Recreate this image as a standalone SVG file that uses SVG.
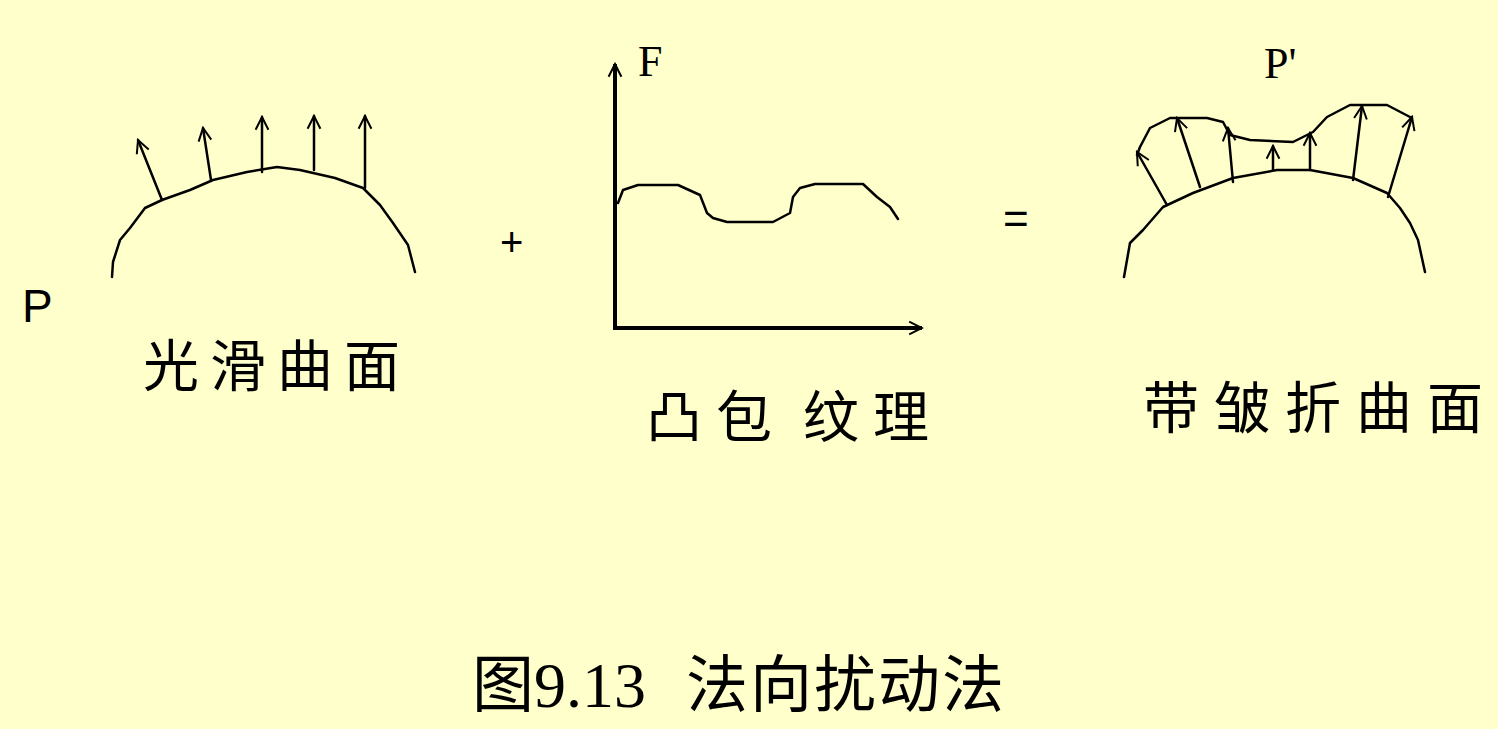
<svg xmlns="http://www.w3.org/2000/svg" width="1498" height="729" viewBox="0 0 1498 729">
<style>
.ln{fill:none;stroke:#000;stroke-width:2.5;stroke-linejoin:round;stroke-linecap:round}
.th{fill:none;stroke:#000;stroke-width:4}
.cjk{font-family:"Noto Sans CJK SC",sans-serif;fill:#000}
.ser{font-family:"Liberation Serif",serif;fill:#000}
.san{font-family:"Liberation Sans",sans-serif;fill:#000}
</style>
<defs>
<marker id="ah" viewBox="0 0 20 20" refX="18" refY="10" markerWidth="16" markerHeight="16" markerUnits="userSpaceOnUse" orient="auto">
<path d="M2,2 L18,10 L2,18" fill="none" stroke="#000" stroke-width="2.5"/>
</marker>
</defs>
<rect width="1498" height="729" fill="#FFFFCC"/>
<g id="smooth">
<path class="ln" d="M112,277 L113,262 L120,240 L130,228 L145,208 L162,200 L190,190 L213,180 L247,172 L277,167 L300,170 L335,178 L363,188 L380,205 L393,223 L408,245 L415,272"/>
<g class="ln">
<line x1="162" y1="200" x2="138" y2="140" marker-end="url(#ah)"/>
<line x1="211" y1="180" x2="203" y2="128" marker-end="url(#ah)"/>
<line x1="262" y1="172" x2="262" y2="117" marker-end="url(#ah)"/>
<line x1="314" y1="170" x2="314" y2="116" marker-end="url(#ah)"/>
<line x1="365" y1="188" x2="365" y2="116" marker-end="url(#ah)"/>
</g>
<text class="san" x="22" y="322" font-size="46">P</text>
<text class="cjk" x="143" y="386" font-size="56" letter-spacing="11">光滑曲面</text>
</g>
<g id="plus"><text class="san" x="500" y="256" font-size="40">+</text></g>
<g id="bump">
<line class="th" x1="615" y1="330" x2="615" y2="64" marker-end="url(#ah)"/>
<line class="th" x1="613" y1="328" x2="922" y2="328" marker-end="url(#ah)"/>
<path class="ln" d="M618,203 L623,190 L638,185 L678,185 L700,195 L707,213 L713,218 L727,222 L773,222 L790,213 L793,197 L800,188 L815,184 L863,184 L877,197 L890,207 L898,219"/>
<text class="ser" x="638" y="76" font-size="44">F</text>
<text class="cjk" x="646" y="437" font-size="56" letter-spacing="14">凸包</text>
<text class="cjk" x="803" y="437" font-size="56" letter-spacing="14">纹理</text>
</g>
<g id="equals"><text class="san" x="1003" y="234" font-size="44">=</text></g>
<g id="wrinkled">
<path class="ln" d="M1124,277 L1130,243 L1143,230 L1163,207 L1193,193 L1233,178 L1277,170 L1310,170 L1353,178 L1387,193 L1400,208 L1410,223 L1418,240 L1425,272"/>
<path class="ln" d="M1137,155 L1140,147 L1150,128 L1170,118 L1207,118 L1223,122 L1230,135 L1250,140 L1293,142 L1313,132 L1327,117 L1350,105 L1387,105 L1410,117"/>
<g class="ln">
<line x1="1167" y1="205" x2="1137" y2="152" marker-end="url(#ah)"/>
<line x1="1200" y1="187" x2="1177" y2="118" marker-end="url(#ah)"/>
<line x1="1233" y1="182" x2="1228" y2="128" marker-end="url(#ah)"/>
<line x1="1273" y1="170" x2="1273" y2="146" marker-end="url(#ah)"/>
<line x1="1310" y1="170" x2="1310" y2="133" marker-end="url(#ah)"/>
<line x1="1353" y1="180" x2="1362" y2="106" marker-end="url(#ah)"/>
<line x1="1388" y1="197" x2="1412" y2="117" marker-end="url(#ah)"/>
</g>
<text class="ser" x="1264" y="78" font-size="44">P'</text>
<text class="cjk" x="1143" y="428" font-size="56" letter-spacing="15">带皱折曲面</text>
</g>
<g id="caption">
<text class="cjk" x="472" y="707" font-size="62">图</text>
<text class="ser" x="534" y="707" font-size="64">9.13</text>
<text class="cjk" x="686" y="707" font-size="62" letter-spacing="2">法向扰动法</text>
</g>
</svg>
